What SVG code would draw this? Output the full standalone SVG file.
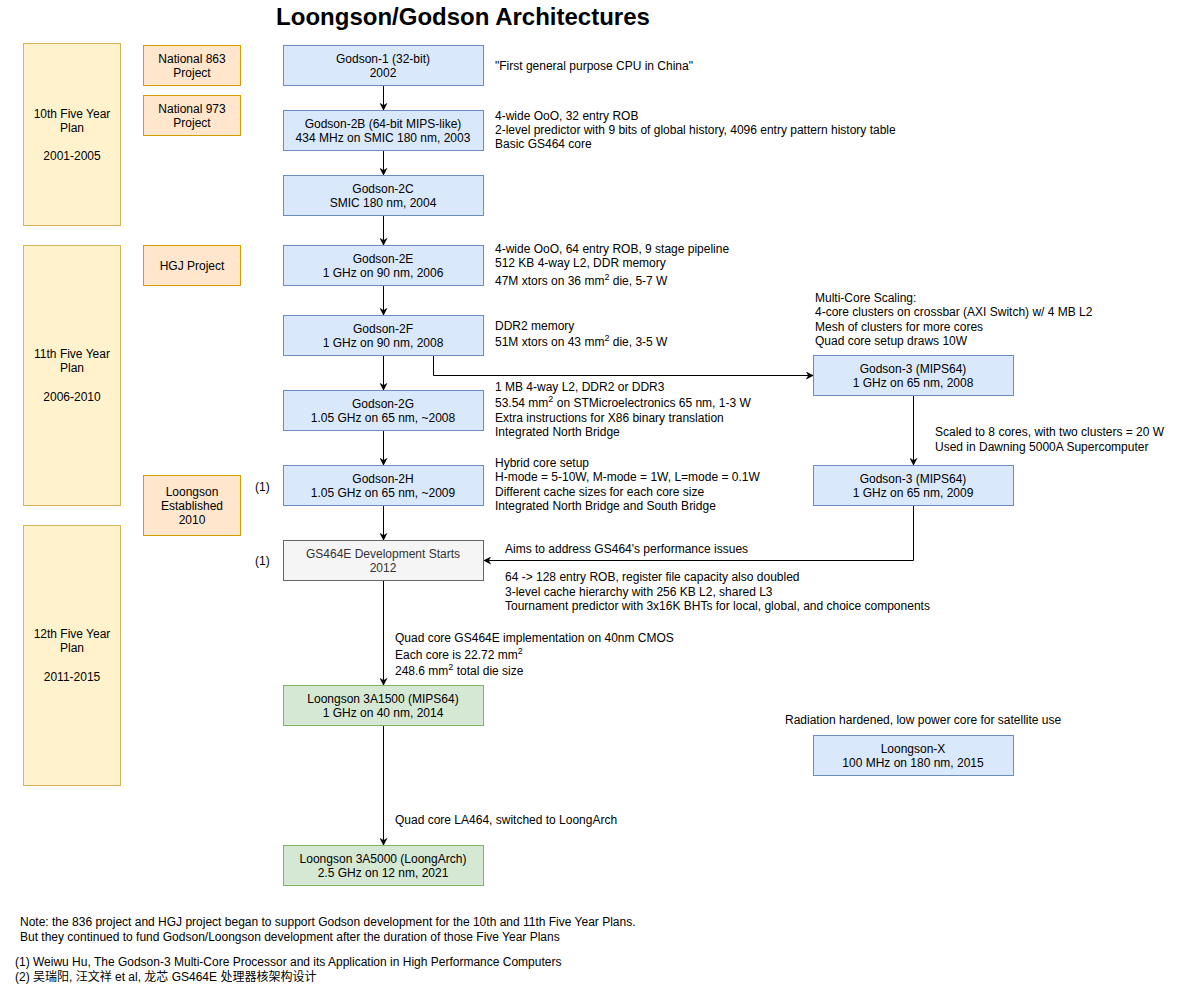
<svg xmlns="http://www.w3.org/2000/svg" width="1194" height="987" viewBox="0 0 1194 987">
<defs>
<marker id="arr" viewBox="0 0 10 10" refX="9" refY="5" markerWidth="8" markerHeight="8" markerUnits="userSpaceOnUse" orient="auto">
<path d="M0,0 L10,5 L0,10 L3,5 Z" fill="#000"/>
</marker>
<style>
text{font-family:"Liberation Sans",Arial,sans-serif;font-size:12px;fill:#000}
.c{text-anchor:middle}
.plan{fill:#fff2cc;stroke:#d6b656}
.proj{fill:#ffe6cc;stroke:#d79b00}
.blue{fill:#dae8fc;stroke:#6c8ebf}
.gray{fill:#f5f5f5;stroke:#666666}
.green{fill:#d5e8d4;stroke:#82b366}
.edge{fill:none;stroke:#000;stroke-width:1;marker-end:url(#arr)}
.sup{font-size:9px}
</style>
</defs>
<rect width="1194" height="987" fill="#fff"/>
<text x="463" y="25" class="c" style="font-size:24px;font-weight:bold">Loongson/Godson Architectures</text>

<g id="plan10"><rect class="plan" x="23.5" y="43.5" width="97" height="182"/>
<text x="72" y="118" class="c">10th Five Year</text><text x="72" y="132" class="c">Plan</text><text x="72" y="160" class="c">2001-2005</text></g>
<g id="plan11"><rect class="plan" x="23.5" y="245.5" width="97" height="260"/>
<text x="72" y="358" class="c">11th Five Year</text><text x="72" y="372" class="c">Plan</text><text x="72" y="401" class="c">2006-2010</text></g>
<g id="plan12"><rect class="plan" x="23.5" y="525.5" width="97" height="260"/>
<text x="72" y="638" class="c">12th Five Year</text><text x="72" y="652" class="c">Plan</text><text x="72" y="681" class="c">2011-2015</text></g>

<g id="p863"><rect class="proj" x="143.5" y="45.5" width="97" height="40"/>
<text x="192" y="63" class="c">National 863</text><text x="192" y="77" class="c">Project</text></g>
<g id="p973"><rect class="proj" x="143.5" y="95.5" width="97" height="40"/>
<text x="192" y="113" class="c">National 973</text><text x="192" y="127" class="c">Project</text></g>
<g id="phgj"><rect class="proj" x="143.5" y="245.5" width="97" height="40"/>
<text x="192" y="270" class="c">HGJ Project</text></g>
<g id="ploongson"><rect class="proj" x="143.5" y="475.5" width="97" height="60"/>
<text x="192" y="496" class="c">Loongson</text><text x="192" y="510" class="c">Established</text><text x="192" y="524" class="c">2010</text></g>

<g id="connectors">
<line class="edge" x1="383.5" y1="85.5" x2="383.5" y2="110"/>
<line class="edge" x1="383.5" y1="150.5" x2="383.5" y2="175"/>
<line class="edge" x1="383.5" y1="215.5" x2="383.5" y2="245"/>
<line class="edge" x1="383.5" y1="285.5" x2="383.5" y2="315"/>
<line class="edge" x1="383.5" y1="355.5" x2="383.5" y2="390"/>
<line class="edge" x1="383.5" y1="430.5" x2="383.5" y2="465"/>
<line class="edge" x1="383.5" y1="505.5" x2="383.5" y2="540"/>
<line class="edge" x1="383.5" y1="580.5" x2="383.5" y2="685"/>
<line class="edge" x1="383.5" y1="725.5" x2="383.5" y2="845"/>
<polyline class="edge" points="433.5,355.5 433.5,375.5 813,375.5"/>
<line class="edge" x1="913.5" y1="395.5" x2="913.5" y2="465"/>
<polyline class="edge" points="913.5,505.5 913.5,560.5 484,560.5"/>
</g>

<g id="godson1"><rect class="blue" x="283.5" y="45.5" width="200" height="40"/>
<text x="383" y="63" class="c">Godson-1 (32-bit)</text><text x="383" y="77" class="c">2002</text></g>
<g id="godson2b"><rect class="blue" x="283.5" y="110.5" width="200" height="40"/>
<text x="383" y="128" class="c">Godson-2B (64-bit MIPS-like)</text><text x="383" y="142" class="c">434 MHz on SMIC 180 nm, 2003</text></g>
<g id="godson2c"><rect class="blue" x="283.5" y="175.5" width="200" height="40"/>
<text x="383" y="193" class="c">Godson-2C</text><text x="383" y="207" class="c">SMIC 180 nm, 2004</text></g>
<g id="godson2e"><rect class="blue" x="283.5" y="245.5" width="200" height="40"/>
<text x="383" y="263" class="c">Godson-2E</text><text x="383" y="277" class="c">1 GHz on 90 nm, 2006</text></g>
<g id="godson2f"><rect class="blue" x="283.5" y="315.5" width="200" height="40"/>
<text x="383" y="333" class="c">Godson-2F</text><text x="383" y="347" class="c">1 GHz on 90 nm, 2008</text></g>
<g id="godson2g"><rect class="blue" x="283.5" y="390.5" width="200" height="40"/>
<text x="383" y="408" class="c">Godson-2G</text><text x="383" y="422" class="c">1.05 GHz on 65 nm, ~2008</text></g>
<g id="godson2h"><rect class="blue" x="283.5" y="465.5" width="200" height="40"/>
<text x="383" y="483" class="c">Godson-2H</text><text x="383" y="497" class="c">1.05 GHz on 65 nm, ~2009</text></g>
<g id="gs464e"><rect class="gray" x="283.5" y="540.5" width="200" height="40"/>
<text x="383" y="558" class="c" style="fill:#333">GS464E Development Starts</text><text x="383" y="572" class="c" style="fill:#333">2012</text></g>
<g id="ls3a1500"><rect class="green" x="283.5" y="685.5" width="200" height="40"/>
<text x="383" y="703" class="c">Loongson 3A1500 (MIPS64)</text><text x="383" y="717" class="c">1 GHz on 40 nm, 2014</text></g>
<g id="ls3a5000"><rect class="green" x="283.5" y="845.5" width="200" height="40"/>
<text x="383" y="863" class="c">Loongson 3A5000 (LoongArch)</text><text x="383" y="877" class="c">2.5 GHz on 12 nm, 2021</text></g>
<g id="godson3a"><rect class="blue" x="813.5" y="355.5" width="200" height="40"/>
<text x="913" y="373" class="c">Godson-3 (MIPS64)</text><text x="913" y="387" class="c">1 GHz on 65 nm, 2008</text></g>
<g id="godson3b"><rect class="blue" x="813.5" y="465.5" width="200" height="40"/>
<text x="913" y="483" class="c">Godson-3 (MIPS64)</text><text x="913" y="497" class="c">1 GHz on 65 nm, 2009</text></g>
<g id="loongsonx"><rect class="blue" x="813.5" y="735.5" width="200" height="40"/>
<text x="913" y="753" class="c">Loongson-X</text><text x="913" y="767" class="c">100 MHz on 180 nm, 2015</text></g>

<g id="notes">
<text x="495" y="70">"First general purpose CPU in China"</text>
<text x="495" y="120">4-wide OoO, 32 entry ROB</text>
<text x="495" y="134">2-level predictor with 9 bits of global history, 4096 entry pattern history table</text>
<text x="495" y="148">Basic GS464 core</text>
<text x="495" y="253">4-wide OoO, 64 entry ROB, 9 stage pipeline</text>
<text x="495" y="267">512 KB 4-way L2, DDR memory</text>
<text x="495" y="285">47M xtors on 36 mm<tspan class="sup" dy="-5">2</tspan><tspan dy="5"> die, 5-7 W</tspan></text>
<text x="815" y="302">Multi-Core Scaling:</text>
<text x="815" y="316">4-core clusters on crossbar (AXI Switch) w/ 4 MB L2</text>
<text x="815" y="331">Mesh of clusters for more cores</text>
<text x="815" y="345">Quad core setup draws 10W</text>
<text x="495" y="330">DDR2 memory</text>
<text x="495" y="346">51M xtors on 43 mm<tspan class="sup" dy="-5">2</tspan><tspan dy="5"> die, 3-5 W</tspan></text>
<text x="495" y="391">1 MB 4-way L2, DDR2 or DDR3</text>
<text x="495" y="407">53.54 mm<tspan class="sup" dy="-5">2</tspan><tspan dy="5"> on STMicroelectronics 65 nm, 1-3 W</tspan></text>
<text x="495" y="422">Extra instructions for X86 binary translation</text>
<text x="495" y="436">Integrated North Bridge</text>
<text x="935" y="436">Scaled to 8 cores, with two clusters = 20 W</text>
<text x="935" y="451">Used in Dawning 5000A Supercomputer</text>
<text x="495" y="467">Hybrid core setup</text>
<text x="495" y="481">H-mode = 5-10W, M-mode = 1W, L=mode = 0.1W</text>
<text x="495" y="496">Different cache sizes for each core size</text>
<text x="495" y="510">Integrated North Bridge and South Bridge</text>
<text x="255" y="491">(1)</text>
<text x="255" y="565">(1)</text>
<text x="505" y="553">Aims to address GS464's performance issues</text>
<text x="505" y="581">64 -&gt; 128 entry ROB, register file capacity also doubled</text>
<text x="505" y="596">3-level cache hierarchy with 256 KB L2, shared L3</text>
<text x="505" y="610">Tournament predictor with 3x16K BHTs for local, global, and choice components</text>
<text x="395" y="642">Quad core GS464E implementation on 40nm CMOS</text>
<text x="395" y="659">Each core is 22.72 mm<tspan class="sup" dy="-5">2</tspan></text>
<text x="395" y="675">248.6 mm<tspan class="sup" dy="-5">2</tspan><tspan dy="5"> total die size</tspan></text>
<text x="785" y="724">Radiation hardened, low power core for satellite use</text>
<text x="395" y="824">Quad core LA464, switched to LoongArch</text>
<text x="20" y="926">Note: the 836 project and HGJ project began to support Godson development for the 10th and 11th Five Year Plans.</text>
<text x="20" y="941">But they continued to fund Godson/Loongson development after the duration of those Five Year Plans</text>
<text x="15" y="966">(1) Weiwu Hu, The Godson-3 Multi-Core Processor and its Application in High Performance Computers</text>
<text x="15" y="981" style="font-family:'Liberation Sans','Noto Sans CJK SC',sans-serif">(2) 吴瑞阳, 汪文祥 et al, 龙芯 GS464E 处理器核架构设计</text>
</g>
</svg>
